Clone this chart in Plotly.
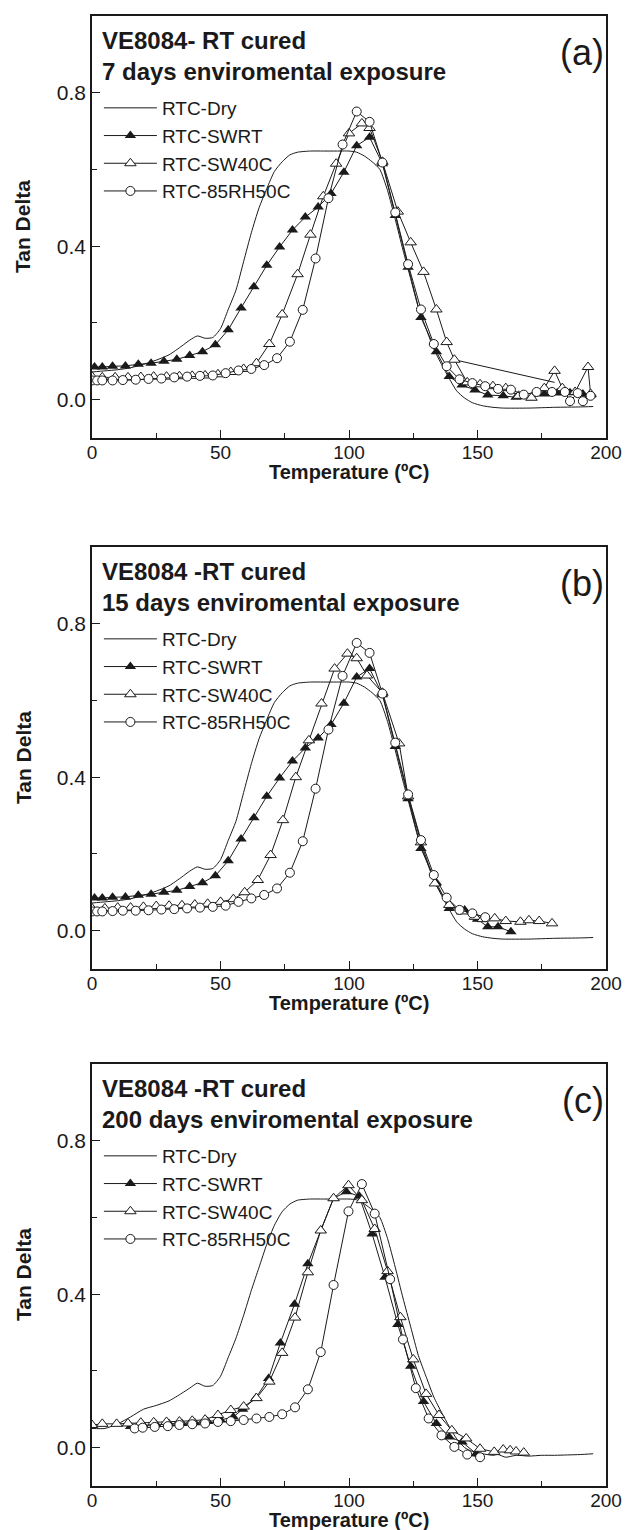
import plotly.graph_objects as go

# ---------------- DATA ----------------
# Common reference curve RTC-Dry (panels a, b)
dry_T = [0, 5, 10, 15, 20, 25, 30, 35, 38, 41, 44, 47, 50, 53, 56, 59, 62, 65, 68, 71, 74, 77, 80,
         85, 90, 95, 100, 103, 106, 109, 112, 115, 118, 121, 124, 127, 130, 133, 136, 139, 142, 145,
         148, 152, 156, 160, 170, 180, 190, 195]
dry_ab = [0.072, 0.075, 0.078, 0.083, 0.092, 0.103, 0.117, 0.14, 0.155, 0.166, 0.16, 0.162, 0.185,
          0.235, 0.285, 0.36, 0.435, 0.5, 0.55, 0.595, 0.62, 0.638, 0.645, 0.648, 0.648, 0.648, 0.648,
          0.645, 0.635, 0.62, 0.6, 0.545, 0.47, 0.39, 0.315, 0.24, 0.185, 0.132, 0.092, 0.055, 0.022,
          0.004, -0.008, -0.016, -0.02, -0.022, -0.022, -0.02, -0.019, -0.018]

# Panel (a): 7 days
swrt_a_T = [1, 4, 8, 13, 18, 23, 28, 33, 38, 43, 48, 53, 58, 63, 68, 73, 78, 83, 88, 93, 98, 103, 108,
            113, 118, 123, 128, 134, 139, 144, 149, 154, 160, 165, 171, 176, 181, 186, 191, 194]
swrt_a = [0.085, 0.085, 0.087, 0.088, 0.092, 0.095, 0.1, 0.105, 0.115, 0.125, 0.143, 0.182, 0.239,
          0.294, 0.35, 0.398, 0.442, 0.476, 0.502, 0.537, 0.593, 0.662, 0.684, 0.615, 0.48, 0.345,
          0.214, 0.125, 0.06, 0.038, 0.025, 0.012, 0.01, 0.006, 0.005, 0.015, 0.017, 0.018, 0.015, 0.012]
sw40_a_T = [0, 4, 9, 14, 19, 24, 29, 34, 39, 44, 49, 54, 59, 64, 69, 74, 80, 85, 90, 95, 100, 105, 108,
            113, 119, 124, 129, 134, 138, 141, 146, 151, 156, 161, 166, 171, 176, 180, 183, 188, 193, 194]
sw40_a = [0.06, 0.058, 0.058, 0.058, 0.059, 0.06, 0.06, 0.061, 0.062, 0.063, 0.066, 0.072, 0.08,
          0.095, 0.145, 0.222, 0.327, 0.43, 0.53, 0.615, 0.694, 0.72, 0.708, 0.62, 0.49, 0.41, 0.333,
          0.235, 0.15, 0.104, 0.045, 0.04, 0.035, 0.03, 0.01, 0.005, 0.03, 0.075, 0.03, 0.02, 0.085, 0.015]
sw40_gap_a_T = [141, 180]
sw40_gap_a = [0.104, 0.045]
rh_a_T = [0, 2, 4, 8, 12, 17, 22, 27, 32, 37, 42, 47, 52, 57, 62, 67, 72, 77, 82, 87, 92, 97.5, 103,
          108, 113, 118, 123, 128, 133, 138, 143, 148, 153, 158, 163, 168, 173, 179, 184, 186, 189, 191, 194]
rh_a = [0.05, 0.05, 0.05, 0.05, 0.051, 0.052, 0.054, 0.055, 0.058, 0.06, 0.062, 0.063, 0.069, 0.076,
        0.08, 0.09, 0.108, 0.151, 0.234, 0.368, 0.525, 0.665, 0.751, 0.724, 0.618, 0.488, 0.353, 0.235,
        0.145, 0.087, 0.053, 0.043, 0.035, 0.028, 0.026, 0.013, 0.02, 0.02, 0.02, -0.004, 0.017, -0.004, 0.01]

# Panel (b): 15 days
swrt_b_T = [1, 4, 8, 13, 18, 23, 28, 33, 38, 43, 48, 53, 58, 63, 68, 73, 78, 83, 88, 93, 98, 103, 108,
            113, 118, 123, 128, 134, 139, 145, 150, 154, 158, 163]
swrt_b = [0.085, 0.085, 0.087, 0.088, 0.092, 0.095, 0.1, 0.105, 0.115, 0.125, 0.143, 0.182, 0.239,
          0.294, 0.35, 0.398, 0.442, 0.476, 0.502, 0.537, 0.593, 0.661, 0.683, 0.615, 0.48, 0.344,
          0.214, 0.125, 0.058, 0.054, 0.03, 0.01, 0.01, -0.003]
sw40_b_T = [0, 5, 10, 15, 20, 25, 30, 35, 40, 45, 50, 55, 59.4, 64.5, 69.5, 74.3, 79.3, 84.4, 89.3,
            94.4, 99.4, 103, 107, 113, 119.5, 123, 128, 133.4, 139, 144, 149, 152, 156.7, 161, 166.7,
            170, 174, 179]
sw40_b = [0.058, 0.058, 0.06, 0.06, 0.062, 0.064, 0.065, 0.066, 0.068, 0.07, 0.075, 0.082, 0.1, 0.132,
          0.197, 0.288, 0.40, 0.496, 0.592, 0.683, 0.722, 0.71, 0.665, 0.62, 0.488, 0.35, 0.23, 0.123,
          0.067, 0.05, 0.036, 0.03, 0.032, 0.025, 0.023, 0.027, 0.025, 0.019]
rh_b_T = [0, 2, 4, 8, 12, 17, 22, 27, 32, 37, 42, 47, 52, 57, 62, 67, 72, 77, 82, 87, 92, 97.5, 103,
          108, 113, 118, 123, 128, 133, 138, 143, 148, 153]
rh_b = [0.05, 0.05, 0.05, 0.051, 0.052, 0.052, 0.053, 0.055, 0.056, 0.058, 0.06, 0.062, 0.065, 0.075,
        0.084, 0.093, 0.11, 0.151, 0.233, 0.37, 0.524, 0.664, 0.75, 0.724, 0.618, 0.49, 0.355, 0.236,
        0.145, 0.086, 0.054, 0.045, 0.035]

# Panel (c): 200 days
dry_c_T = [0, 5, 10, 15, 20, 25, 30, 35, 38, 41, 44, 47, 50, 53, 56, 59, 62, 65, 68, 71, 74, 77, 80,
           85, 90, 95, 100, 103, 106, 109, 112, 115, 118, 121, 124, 127, 130, 133, 136, 139, 142, 145,
           148, 152, 156, 158, 161, 165, 170, 175, 180, 185, 190, 195]
dry_c = [0.05, 0.05, 0.062, 0.08, 0.1, 0.11, 0.122, 0.142, 0.155, 0.168, 0.16, 0.162, 0.186, 0.235,
         0.285, 0.345, 0.41, 0.47, 0.53, 0.58, 0.615, 0.635, 0.645, 0.648, 0.648, 0.648, 0.648, 0.646,
         0.635, 0.62, 0.6, 0.545, 0.47, 0.39, 0.315, 0.24, 0.185, 0.132, 0.092, 0.055, 0.022, 0.0,
         -0.01, -0.016, -0.02, -0.018, -0.025, -0.02, -0.022, -0.02, -0.02, -0.019, -0.018, -0.016]
swrt_c_T = [15, 20, 25, 30, 35, 40, 45, 50, 55, 58.6, 63.7, 68.7, 73.3, 78.8, 84, 89, 94, 99, 104,
            109, 114, 119, 124, 129, 134, 139, 144, 149.5]
swrt_c = [0.055, 0.058, 0.06, 0.062, 0.063, 0.065, 0.068, 0.072, 0.08, 0.1, 0.129, 0.18, 0.273,
          0.374, 0.479, 0.566, 0.65, 0.667, 0.655, 0.557, 0.444, 0.321, 0.212, 0.12, 0.063, 0.028,
          0.015, -0.016]
sw40_c_T = [0, 4, 9.6, 14, 19, 24, 29, 34, 39, 44, 49, 54, 59, 64, 69, 74, 79, 84, 89, 94, 99.8, 105,
            110, 115, 120, 125, 130, 135, 140, 145.6, 151, 156.5, 160, 162.7, 165, 168]
sw40_c = [0.059, 0.062, 0.062, 0.063, 0.065, 0.066, 0.067, 0.068, 0.07, 0.073, 0.085, 0.098, 0.107,
          0.129, 0.172, 0.247, 0.339, 0.457, 0.566, 0.65, 0.684, 0.645, 0.57, 0.46, 0.34, 0.23, 0.14,
          0.085, 0.045, 0.024, -0.003, -0.011, -0.005, -0.007, -0.01, -0.013]
rh_c_T = [16.6, 19.7, 24.4, 29.5, 34, 39, 44, 49, 54, 59, 64, 69, 74, 79, 84, 89, 94, 99.8, 105, 110,
          116, 121, 126, 131, 136, 141, 146, 151]
rh_c = [0.05, 0.052, 0.054, 0.056, 0.059, 0.061, 0.063, 0.067, 0.069, 0.072, 0.076, 0.08, 0.087,
        0.105, 0.152, 0.249, 0.424, 0.616, 0.687, 0.61, 0.439, 0.282, 0.155, 0.076, 0.032, 0.002,
        -0.018, -0.025]

series_names = ["RTC-Dry", "RTC-SWRT", "RTC-SW40C", "RTC-85RH50C"]
title_lines = [("VE8084- RT cured", "7 days enviromental exposure", "(a)"),
               ("VE8084 -RT cured", "15 days enviromental exposure", "(b)"),
               ("VE8084 -RT cured", "200 days enviromental exposure", "(c)")]
x_title = "Temperature (ºC)"
y_title = "Tan Delta"

panels = [
    dict(dry=(dry_T, dry_ab), swrt=(swrt_a_T, swrt_a), sw40=(sw40_a_T, sw40_a), rh=(rh_a_T, rh_a),
         extra=(sw40_gap_a_T, sw40_gap_a)),
    dict(dry=(dry_T, dry_ab), swrt=(swrt_b_T, swrt_b), sw40=(sw40_b_T, sw40_b), rh=(rh_b_T, rh_b),
         extra=None),
    dict(dry=(dry_c_T, dry_c), swrt=(swrt_c_T, swrt_c), sw40=(sw40_c_T, sw40_c), rh=(rh_c_T, rh_c),
         extra=None),
]

# ---------------- LAYOUT GEOMETRY ----------------
W, H = 634, 1530
ML, MR, MT, MB = 92, 20, 16, 44
plot_h = H - MT - MB
plot_w = W - ML - MR
boxes = [(16, 438), (547, 969), (1064, 1486)]  # top, bottom pixel of each panel


def py(pix):
    return (H - MB - pix) / plot_h


def px(pix):
    return (pix - ML) / plot_w


FONT = "Liberation Sans, Arial, Helvetica, sans-serif"
INK = "#1a1a1a"

fig = go.Figure()
layout_axes = {}
annotations = []

for i, p in enumerate(panels):
    n = "" if i == 0 else str(i + 1)
    xa, ya = "x" + n, "y" + n
    leg = "legend" + n
    fig.add_trace(go.Scatter(x=p["dry"][0], y=p["dry"][1], name=series_names[0], mode="lines",
                             line=dict(color=INK, width=1, shape="spline", smoothing=0.6),
                             xaxis=xa, yaxis=ya, legend=leg))
    fig.add_trace(go.Scatter(x=p["swrt"][0], y=p["swrt"][1], name=series_names[1], mode="lines+markers",
                             line=dict(color=INK, width=1),
                             marker=dict(symbol="triangle-up", size=10, color=INK),
                             xaxis=xa, yaxis=ya, legend=leg))
    if p["extra"] is not None:
        fig.add_trace(go.Scatter(x=p["extra"][0], y=p["extra"][1], mode="lines", showlegend=False,
                                 line=dict(color=INK, width=1), xaxis=xa, yaxis=ya, hoverinfo="skip"))
    fig.add_trace(go.Scatter(x=p["sw40"][0], y=p["sw40"][1], name=series_names[2], mode="lines+markers",
                             line=dict(color=INK, width=1),
                             marker=dict(symbol="triangle-up", size=10, color="white",
                                         line=dict(color=INK, width=1)),
                             xaxis=xa, yaxis=ya, legend=leg))
    fig.add_trace(go.Scatter(x=p["rh"][0], y=p["rh"][1], name=series_names[3], mode="lines+markers",
                             line=dict(color=INK, width=1),
                             marker=dict(symbol="circle", size=9, color="white",
                                         line=dict(color=INK, width=1)),
                             xaxis=xa, yaxis=ya, legend=leg))

    top, bot = boxes[i]
    dom = [py(bot), py(top)]
    layout_axes["xaxis" + n] = dict(
        domain=[0, 1], anchor=ya, range=[0, 200], tick0=0, dtick=50,
        ticks="inside", ticklen=8, tickwidth=1.2, tickcolor=INK,
        minor=dict(dtick=25, ticks="inside", ticklen=5, tickwidth=1.2, tickcolor=INK),
        showline=True, linewidth=1.7, linecolor=INK, mirror=True,
        showgrid=False, zeroline=False, ticklabelstandoff=-4,
        tickfont=dict(family=FONT, size=19, color=INK),
    )
    layout_axes["yaxis" + n] = dict(
        domain=dom, anchor=xa, range=[-0.1, 1.0], tick0=0, dtick=0.4, tickformat=".1f",
        ticks="inside", ticklen=8, tickwidth=1.2, tickcolor=INK,
        minor=dict(dtick=0.2, ticks="inside", ticklen=5, tickwidth=1.2, tickcolor=INK),
        showline=True, linewidth=1.7, linecolor=INK, mirror=True,
        showgrid=False, zeroline=False,
        tickfont=dict(family=FONT, size=21, color=INK),
    )
    # legend
    layout_axes[leg] = dict(
        x=px(99), xanchor="left", y=py(top + 73), yanchor="top",
        bgcolor="rgba(0,0,0,0)", borderwidth=0, itemwidth=53, tracegroupgap=0,
        font=dict(family=FONT, size=19, color=INK),
    )
    l1, l2, tag = title_lines[i]
    annotations += [
        dict(xref=xa, yref=ya, x=3, y=0.935, text="<b>" + l1 + "</b>", showarrow=False,
             xanchor="left", yanchor="middle", font=dict(family=FONT, size=24, color=INK)),
        dict(xref=xa, yref=ya, x=3, y=0.855, text="<b>" + l2 + "</b>", showarrow=False,
             xanchor="left", yanchor="middle", font=dict(family=FONT, size=24, color=INK)),
        dict(xref=xa, yref=ya, x=200, y=0.905, text=tag, showarrow=False,
             xanchor="right", yanchor="middle", font=dict(family=FONT, size=36, color=INK)),
        # axis titles
        dict(xref="paper", yref="paper", x=0.5, y=py(bot + 34), text="<b>" + x_title + "</b>",
             showarrow=False, xanchor="center", yanchor="middle",
             font=dict(family=FONT, size=20, color=INK)),
        dict(xref="paper", yref="paper", x=px(22), y=py((top + bot) / 2), text="<b>" + y_title + "</b>",
             showarrow=False, xanchor="center", yanchor="middle", textangle=-90,
             font=dict(family=FONT, size=21, color=INK)),
    ]

fig.update_layout(
    width=W, height=H, margin=dict(l=ML, r=MR, t=MT, b=MB),
    paper_bgcolor="white", plot_bgcolor="white",
    font=dict(family=FONT, color=INK),
    annotations=annotations,
    **layout_axes,
)

fig.write_html("out.html", config={"displayModeBar": False},
               post_script="document.body.style.margin='0';")
